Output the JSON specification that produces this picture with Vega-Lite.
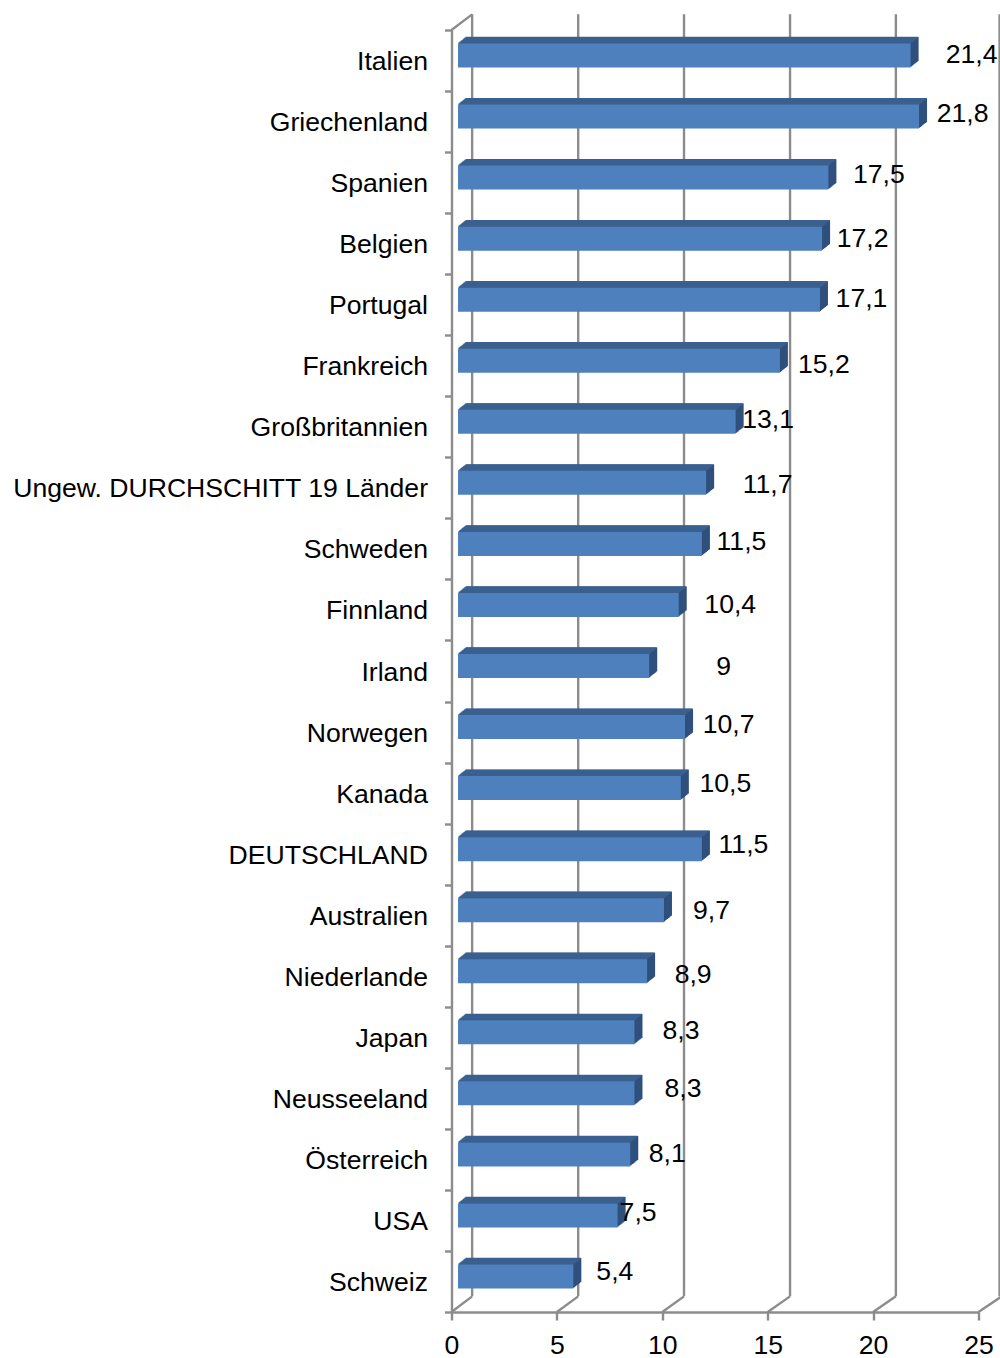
{"$schema":"https://vega.github.io/schema/vega-lite/v6.json","width":527,"height":1282,"autosize":{"type":"none"},"padding":{"left":451.5,"top":30,"right":21.5,"bottom":46},"background":"white","config":{"view":{"stroke":null},"font":"Liberation Sans","text":{"font":"Liberation Sans"}},"datasets":{"rows":[{"land":"Italien","wert":21.4,"label":"21,4"},{"land":"Griechenland","wert":21.8,"label":"21,8"},{"land":"Spanien","wert":17.5,"label":"17,5"},{"land":"Belgien","wert":17.2,"label":"17,2"},{"land":"Portugal","wert":17.1,"label":"17,1"},{"land":"Frankreich","wert":15.2,"label":"15,2"},{"land":"Großbritannien","wert":13.1,"label":"13,1"},{"land":"Ungew. DURCHSCHITT 19 Länder","wert":11.7,"label":"11,7"},{"land":"Schweden","wert":11.5,"label":"11,5"},{"land":"Finnland","wert":10.4,"label":"10,4"},{"land":"Irland","wert":9,"label":"9"},{"land":"Norwegen","wert":10.7,"label":"10,7"},{"land":"Kanada","wert":10.5,"label":"10,5"},{"land":"DEUTSCHLAND","wert":11.5,"label":"11,5"},{"land":"Australien","wert":9.7,"label":"9,7"},{"land":"Niederlande","wert":8.9,"label":"8,9"},{"land":"Japan","wert":8.3,"label":"8,3"},{"land":"Neusseeland","wert":8.3,"label":"8,3"},{"land":"Österreich","wert":8.1,"label":"8,1"},{"land":"USA","wert":7.5,"label":"7,5"},{"land":"Schweiz","wert":5.4,"label":"5,4"}],"frame":[{"a":0,"b":0.98,"c":0,"d":0.0122},{"a":5,"b":6.01,"c":0,"d":0.0122},{"a":10,"b":11.03,"c":0,"d":0.0122},{"a":15,"b":16.06,"c":0,"d":0.0122},{"a":20,"b":21.08,"c":0,"d":0.0122},{"a":25,"b":26.1,"c":0,"d":0.0122},{"a":0.98,"b":0.98,"c":0.0122,"d":1.0122},{"a":6.01,"b":6.01,"c":0.0122,"d":1.0122},{"a":11.03,"b":11.03,"c":0.0122,"d":1.0122},{"a":16.06,"b":16.06,"c":0.0122,"d":1.0122},{"a":21.08,"b":21.08,"c":0.0122,"d":1.0122},{"a":26.0,"b":26.0,"c":0.0122,"d":1.0122},{"a":0,"b":0.98,"c":1,"d":1.0122}]},"resolve":{"scale":{"y":"independent"}},"layer":[{"data":{"name":"frame"},"mark":{"type":"rule","color":"#8c8c8c","strokeWidth":2.4,"clip":false},"encoding":{"x":{"field":"a","type":"quantitative","scale":{"domain":[0,25],"nice":false},"axis":{"values":[0,5,10,15,20,25],"title":null,"grid":false,"domainColor":"#8c8c8c","domainWidth":2.4,"tickColor":"#8c8c8c","tickWidth":2.4,"tickSize":8,"labelFont":"Liberation Sans","labelFontSize":26.6,"labelColor":"#000000","labelPadding":12,"labelOverlap":false,"labelFlush":false}},"x2":{"field":"b"},"y":{"field":"c","type":"quantitative","scale":{"domain":[0,1],"nice":false,"zero":false},"axis":null},"y2":{"field":"d"}}},{"data":{"name":"rows"},"encoding":{"y":{"field":"land","type":"nominal","sort":null,"scale":{"paddingInner":0,"paddingOuter":0},"axis":{"title":null,"tickBand":"extent","domainColor":"#8c8c8c","domainWidth":2.4,"tickColor":"#8c8c8c","tickWidth":2.4,"tickSize":7,"labelFont":"Liberation Sans","labelFontSize":26.6,"labelColor":"#000000","labelPadding":17,"labelOffset":1,"labelLimit":500,"labelOverlap":false}},"x":{"field":"wert","type":"quantitative"},"x2":{"datum":0}},"layer":[{"mark":{"type":"bar","color":"#2f4f7c","size":24,"xOffset":9,"x2Offset":7.5,"yOffset":-5.8}},{"mark":{"type":"bar","color":"#2f4f7c","size":24,"xOffset":10,"x2Offset":8.5,"yOffset":-6.6}},{"mark":{"type":"bar","color":"#2f4f7c","size":24,"xOffset":11,"x2Offset":9.5,"yOffset":-7.4}},{"mark":{"type":"bar","color":"#2f4f7c","size":24,"xOffset":12,"x2Offset":10.5,"yOffset":-8.2}},{"mark":{"type":"bar","color":"#2f4f7c","size":24,"xOffset":13,"x2Offset":11.5,"yOffset":-9}},{"mark":{"type":"bar","color":"#2f4f7c","size":24,"xOffset":14,"x2Offset":12.5,"yOffset":-9.8}},{"mark":{"type":"bar","color":"#2f4f7c","size":24,"xOffset":15,"x2Offset":13.5,"yOffset":-10.6}},{"mark":{"type":"bar","color":"#2f4f7c","size":24,"xOffset":16,"x2Offset":14.5,"yOffset":-11.4}},{"mark":{"type":"rule","color":"#3b608f","strokeWidth":1.3,"xOffset":8.5,"x2Offset":7,"yOffset":-17.5}},{"mark":{"type":"rule","color":"#3b608f","strokeWidth":1.3,"xOffset":9.5,"x2Offset":8,"yOffset":-18.3}},{"mark":{"type":"rule","color":"#3b608f","strokeWidth":1.3,"xOffset":10.5,"x2Offset":9,"yOffset":-19.1}},{"mark":{"type":"rule","color":"#3b608f","strokeWidth":1.3,"xOffset":11.5,"x2Offset":10,"yOffset":-19.9}},{"mark":{"type":"rule","color":"#3b608f","strokeWidth":1.3,"xOffset":12.5,"x2Offset":11,"yOffset":-20.7}},{"mark":{"type":"rule","color":"#3b608f","strokeWidth":1.3,"xOffset":13.5,"x2Offset":12,"yOffset":-21.5}},{"mark":{"type":"rule","color":"#3b608f","strokeWidth":1.3,"xOffset":14.5,"x2Offset":13,"yOffset":-22.3}},{"mark":{"type":"rule","color":"#3b608f","strokeWidth":1.3,"xOffset":15.5,"x2Offset":14,"yOffset":-23}},{"mark":{"type":"bar","color":"#4d80bd","size":24,"xOffset":8,"x2Offset":6.5,"yOffset":-5}},{"mark":{"type":"text","font":"Liberation Sans","fontSize":26.6,"color":"#000000","align":"center","baseline":"middle","dx":{"expr":"0.5+({'Italien':68.5,'Griechenland':51,'Spanien':58,'Belgien':48,'Portugal':49,'Frankreich':51.5,'Großbritannien':40,'Ungew. DURCHSCHITT 19 Länder':69,'Schweden':47,'Finnland':59,'Irland':82,'Norwegen':51,'Kanada':52,'DEUTSCHLAND':49,'Australien':55,'Niederlande':53.5,'Japan':54,'Neusseeland':56,'Österreich':44.5,'USA':28,'Schweiz':49})[datum.land]"},"dy":{"expr":"1+({'Italien':-6.5,'Griechenland':-8.5,'Spanien':-8.6,'Belgien':-5.6,'Portugal':-6.7,'Frankreich':-1.7,'Großbritannien':-7.8,'Ungew. DURCHSCHITT 19 Länder':-3.8,'Schweden':-7.9,'Finnland':-5.9,'Irland':-5,'Norwegen':-8,'Kanada':-10,'DEUTSCHLAND':-10,'Australien':-5,'Niederlande':-2,'Japan':-7,'Neusseeland':-10,'Österreich':-6,'USA':-8,'Schweiz':-10})[datum.land]"}},"encoding":{"x":{"field":"wert","type":"quantitative"},"x2":null,"text":{"field":"label"}}}]}]}
